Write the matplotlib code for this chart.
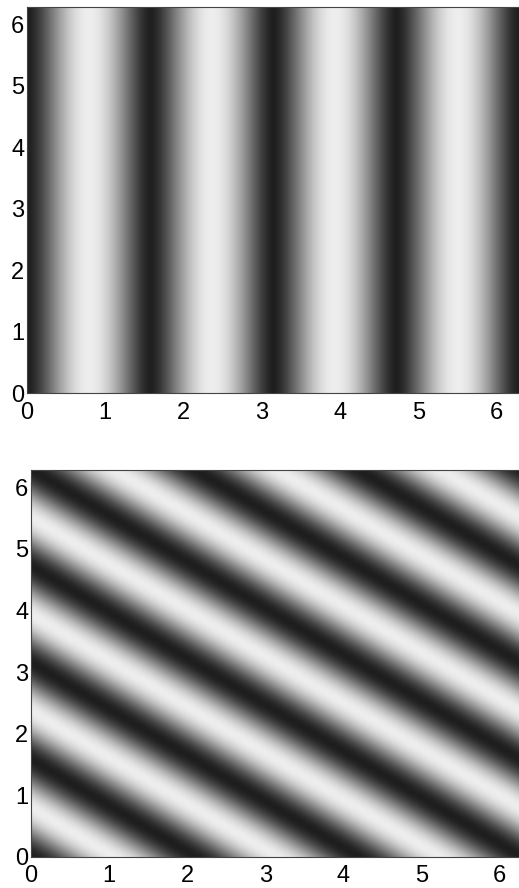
import numpy as np
import matplotlib.pyplot as plt
from matplotlib.colors import LinearSegmentedColormap, PowerNorm

# plane waves: u = -cos(kx*x + ky*y)
kx = [4, 3]          # wave number in x, top / bottom panel
ky = [0, 4]          # wave number in y, top / bottom panel
ticks = [0, 1, 2, 3, 4, 5, 6]

L = 2 * np.pi
n = 300
xs = np.linspace(0, L, n)
X, Y = np.meshgrid(xs, xs)

plt.rcParams['font.family'] = ['Liberation Sans', 'DejaVu Sans']

cmap = LinearSegmentedColormap.from_list('scan', [(0.12, 0.12, 0.12), (0.93, 0.93, 0.93)])
gammas = [0.75, 0.95]   # the scanned top panel reads lighter

fig = plt.figure(figsize=(5.19, 8.88), dpi=100)
# axes boxes in figure fractions (left, bottom, width, height)
boxes = [[0.052, 0.557, 0.948, 0.435],
         [0.060, 0.035, 0.945, 0.436]]

for i in range(2):
    ax = fig.add_axes(boxes[i])
    u = (1 - np.cos(kx[i] * X + ky[i] * Y)) / 2
    ax.imshow(u, cmap=cmap, origin='lower', extent=[0, L, 0, L],
              aspect='auto', interpolation='bilinear',
              norm=PowerNorm(gammas[i], vmin=0, vmax=1))
    ax.set_xlim(0, L)
    ax.set_ylim(0, L)
    ax.set_xticks(ticks)
    ax.set_yticks(ticks)
    ax.tick_params(direction='in', length=0, labelsize=17)
    ax.tick_params(axis='x', pad=6)
    ax.tick_params(axis='y', pad=2)
    for s in ax.spines.values():
        s.set_linewidth(0.8)
        s.set_color('#444444')

fig.savefig('out.png', dpi=100)
